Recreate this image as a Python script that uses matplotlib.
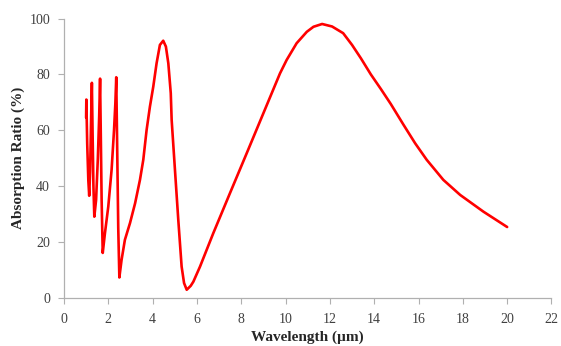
import matplotlib
matplotlib.use("Agg")
import matplotlib.pyplot as plt

# wavelength (um) and absorption ratio (%)
wavelength = [1.00, 1.01, 1.05, 1.10, 1.14, 1.18, 1.22, 1.26, 1.29, 1.33, 1.37,
              1.45, 1.53, 1.59, 1.63, 1.66, 1.70, 1.75, 1.85, 2.00, 2.15, 2.26,
              2.32, 2.36, 2.40, 2.45, 2.50, 2.60, 2.75, 2.98, 3.21, 3.43, 3.58,
              3.73, 3.88, 4.03, 4.18, 4.33, 4.48, 4.60, 4.71, 4.82, 4.86, 5.01,
              5.16, 5.31, 5.42, 5.54, 5.72, 5.84, 6.14, 6.74, 7.49, 8.25, 9.00,
              9.75, 10.05, 10.50, 10.96, 11.26, 11.65, 12.10, 12.60, 13.00, 13.40,
              13.85, 14.30, 14.75, 15.32, 15.85, 16.37, 17.12, 17.88, 18.93, 20.00]
absorption = [64.5, 71.0, 55.0, 42.0, 36.5, 45.0, 62.0, 77.0, 60.0, 40.0, 29.0,
              35.0, 50.0, 65.0, 78.5, 60.0, 35.0, 16.0, 23.1, 32.6, 45.8, 60.1,
              69.7, 79.0, 55.0, 25.0, 7.2, 13.5, 20.7, 26.7, 33.8, 42.2, 49.4,
              60.1, 68.5, 75.6, 84.0, 90.6, 92.1, 90.0, 84.0, 73.3, 63.7, 45.7,
              27.8, 11.1, 5.2, 2.8, 4.2, 5.7, 11.1, 23.1, 37.4, 51.8, 66.1,
              80.4, 85.2, 91.2, 95.3, 97.1, 98.1, 97.2, 94.8, 90.6, 85.8,
              80.0, 74.8, 69.4, 62.0, 55.3, 49.4, 42.2, 36.8, 30.8, 25.3]

x_ticks = list(range(0, 23, 2))
y_ticks = list(range(0, 101, 20))

plt.rcParams["font.family"] = ["Liberation Serif", "DejaVu Serif"]

fig = plt.figure(figsize=(5.61, 3.46), dpi=100)
ax = fig.add_axes([0.114, 0.14, 0.869, 0.806])

ax.plot(wavelength, absorption, color="#ff0000", linewidth=1.9,
        solid_joinstyle="round", solid_capstyle="round")

ax.set_xlim(0, 22)
ax.set_ylim(0, 100)
ax.set_xticks(x_ticks)
ax.set_yticks(y_ticks)

for side in ["top", "right"]:
    ax.spines[side].set_visible(False)
for side in ["left", "bottom"]:
    ax.spines[side].set_color("#b0b0b0")
    ax.spines[side].set_linewidth(0.9)

ax.tick_params(axis="both", direction="out", length=4, width=0.8,
               color="#b0b0b0", labelcolor="#404040", labelsize=10)
ax.tick_params(axis="x", pad=7)
ax.tick_params(axis="y", pad=6)

ax.set_xlabel("Wavelength (\u00b5m)", fontsize=11, fontweight="bold",
              color="#262626", labelpad=3.5)
ax.set_ylabel("Absorption Ratio (%)", fontsize=11, fontweight="bold",
              color="#262626", labelpad=3)

fig.savefig("out.png", dpi=100, facecolor="white")
plt.close(fig)
